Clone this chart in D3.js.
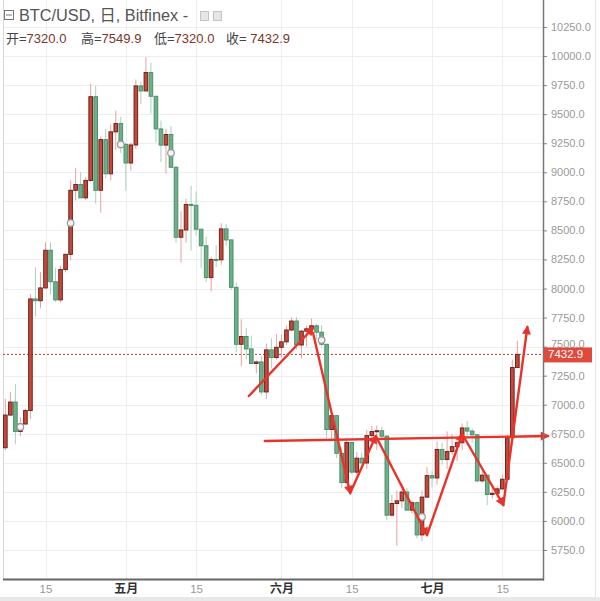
<!DOCTYPE html>
<html><head><meta charset="utf-8">
<script src="https://cdn.jsdelivr.net/npm/d3@7"></script>
<style>html,body{margin:0;padding:0;background:#fff;}svg{display:block;}</style>
</head><body>
<svg id="c" width="600" height="601"></svg>
<script>
// ---- data ----
const dates = ["2018-04-07","2018-04-08","2018-04-09","2018-04-10","2018-04-11","2018-04-12","2018-04-13","2018-04-14","2018-04-15","2018-04-16","2018-04-17","2018-04-18","2018-04-19","2018-04-20","2018-04-21","2018-04-22","2018-04-23","2018-04-24","2018-04-25","2018-04-26","2018-04-27","2018-04-28","2018-04-29","2018-04-30","2018-05-01","2018-05-02","2018-05-03","2018-05-04","2018-05-05","2018-05-06","2018-05-07","2018-05-08","2018-05-09","2018-05-10","2018-05-11","2018-05-12","2018-05-13","2018-05-14","2018-05-15","2018-05-16","2018-05-17","2018-05-18","2018-05-19","2018-05-20","2018-05-21","2018-05-22","2018-05-23","2018-05-24","2018-05-25","2018-05-26","2018-05-27","2018-05-28","2018-05-29","2018-05-30","2018-05-31","2018-06-01","2018-06-02","2018-06-03","2018-06-04","2018-06-05","2018-06-06","2018-06-07","2018-06-08","2018-06-09","2018-06-10","2018-06-11","2018-06-12","2018-06-13","2018-06-14","2018-06-15","2018-06-16","2018-06-17","2018-06-18","2018-06-19","2018-06-20","2018-06-21","2018-06-22","2018-06-23","2018-06-24","2018-06-25","2018-06-26","2018-06-27","2018-06-28","2018-06-29","2018-06-30","2018-07-01","2018-07-02","2018-07-03","2018-07-04","2018-07-05","2018-07-06","2018-07-07","2018-07-08","2018-07-09","2018-07-10","2018-07-11","2018-07-12","2018-07-13","2018-07-14","2018-07-15","2018-07-16","2018-07-17","2018-07-18"];
const opens  = [6630,6911,7023,6770,6834,6950,7910,7895,8005,8329,8058,7902,8163,8294,8845,8895,8780,8930,9650,8845,9281,8987,9348,9419,9240,9080,9235,9743,9700,9858,9654,9373,9234,9325,9043,8441,8504,8723,8716,8510,8368,8094,8250,8247,8513,8418,8010,7520,7587,7480,7355,7368,7110,7472,7406,7494,7541,7643,7720,7514,7633,7653,7679,7624,7520,6787,6906,6582,6330,6675,6420,6540,6499,6734,6769,6776,6729,6050,6150,6173,6249,6093,6157,5880,6205,6390,6370,6615,6529,6597,6639,6673,6800,6773,6741,6345,6394,6228,6238,6276,6359,6716,7320];
const highs  = [7050,7111,7178,6892,6968,7950,8183,8140,8397,8398,8175,8197,8298,8930,9035,9001,8958,9760,9745,9307,9375,9412,9531,9477,9255,9256,9798,9779,9990,9940,9654,9446,9374,9396,9052,8664,8773,8881,8836,8510,8445,8274,8372,8562,8557,8423,8054,7735,7659,7595,7381,7419,7526,7573,7608,7604,7681,7755,7754,7643,7680,7741,7698,7683,7520,6910,6907,6631,6707,6681,6592,6589,6781,6818,6821,6810,6738,6224,6264,6326,6283,6180,6171,6261,6465,6432,6683,6675,6771,6749,6705,6840,6860,6796,6745,6432,6397,6310,6298,6401,6741,7387,7549.9];
const lows   = [6610,6900,6661,6729,6830,6878,7758,7830,8000,7949,7884,7880,8139,8244,8757,8790,8760,8920,8731,8651,8950,8931,9193,9166,8840,9015,9203,9585,9700,9505,9258,9088,8987,9040,8394,8223,8395,8325,8456,8175,8054,7975,8183,8205,8365,7990,7450,7331,7392,7349,7270,7080,7050,7313,7388,7407,7513,7632,7474,7397,7502,7650,7558,7500,6709,6706,6542,6285,6320,6400,6401,6499,6446,6704,6611,6712,6006,6040,5786,6109,6094,6068,5850,5827,6200,6289,6312,6484,6449,6566,6515,6611,6716,6671,6330,6326,6136,6192,6202,6268,6357,6684,7320];
const closes = [6911,7023,6770,6834,6950,7910,7895,8005,8329,8058,7902,8163,8294,8845,8895,8780,8930,9650,8845,9281,8987,9348,9419,9240,9080,9235,9743,9700,9858,9654,9373,9234,9325,9043,8441,8504,8723,8716,8510,8368,8094,8250,8247,8513,8418,8010,7520,7587,7480,7355,7368,7110,7472,7406,7494,7541,7643,7720,7514,7633,7653,7679,7624,7520,6787,6906,6582,6330,6675,6420,6540,6499,6734,6769,6776,6729,6050,6150,6173,6249,6093,6157,5880,6205,6390,6370,6615,6529,6597,6639,6673,6800,6773,6741,6345,6394,6228,6238,6276,6359,6716,7320,7432.9];

// small event circles on candles
const markerDates  = ["2018-04-10","2018-04-20","2018-04-30","2018-05-10","2018-06-09","2018-06-29"];
const markerPrices = [6808,8563,9240,9166,7556,6035];

// hand-drawn annotation (date as fractional day offset from 2018-04-01, price)
const arrowUpDays   = [54.5, 67.3];
const arrowUpPrices = [7075, 7660];
const zigDays   = [67.3, 74.7, 79.8, 90.0, 97.0, 105.2, 110.0];
const zigPrices = [7617, 6240, 6731, 5879, 6748, 6137, 7669];
const hLineDays   = [57.7, 114.1];
const hLinePrices = [6688, 6731];

const yTicks = d3.range(5750, 10251, 250);
const xTickDates = ["2018-04-15","2018-05-01","2018-05-15","2018-06-01","2018-06-15","2018-07-01","2018-07-15"];
const xTickLabels = ["15","五月","15","六月","15","七月","15"];

const header1 = "BTC/USD, 日, Bitfinex -";
const ohlcLabels = ["开=","高=","低=","收="];
const lastOHLC = [7320.0, 7549.9, 7320.0, 7432.9];

// ---- scales ----
const parse = d3.utcParse("%Y-%m-%d");
const base = parse("2018-04-01");
const dayMs = 864e5;
const x = d3.scaleUtc().domain([parse("2018-04-15"), parse("2018-07-15")]).range([45.5, 502.3]);
const y = d3.scaleLinear().domain([5750, 10250]).range([550, 27]);
const xd = d => x(new Date(base.getTime() + d*dayMs));

const plotL = 3, plotR = 543, plotB = 579;
const svg = d3.select("#c");
svg.append("rect").attr("width",600).attr("height",601).attr("fill","#fff");

const defs = svg.append("defs");
defs.append("clipPath").attr("id","clip").append("rect").attr("x",plotL).attr("y",0).attr("width",plotR-plotL).attr("height",plotB);
defs.append("marker").attr("id","ah").attr("viewBox","0 0 10 10").attr("refX",8).attr("refY",5)
  .attr("markerWidth",11).attr("markerHeight",9).attr("markerUnits","userSpaceOnUse").attr("orient","auto")
  .append("path").attr("d","M0,0 L10,5 L0,10 Z").attr("fill","#e8332b");

// gridlines
const g = svg.append("g");
g.selectAll("line.h").data(yTicks).join("line").attr("x1",plotL).attr("x2",plotR)
  .attr("y1",d=>Math.round(y(d))+0.5).attr("y2",d=>Math.round(y(d))+0.5).attr("stroke","#eeeeee");
g.selectAll("line.v").data(xTickDates).join("line").attr("y1",0).attr("y2",plotB)
  .attr("x1",d=>Math.round(x(parse(d)))+0.5).attr("x2",d=>Math.round(x(parse(d)))+0.5).attr("stroke","#eeeeee");

// borders
svg.append("line").attr("x1",3.5).attr("x2",3.5).attr("y1",0).attr("y2",plotB).attr("stroke","#d6d6d6");
svg.append("line").attr("x1",595.5).attr("x2",595.5).attr("y1",0).attr("y2",597).attr("stroke","#e6e6e6");

// last price dotted line
svg.append("line").attr("x1",plotL).attr("x2",plotR).attr("y1",y(lastOHLC[3])).attr("y2",y(lastOHLC[3]))
  .attr("stroke","#c0392b").attr("stroke-width",1).attr("stroke-dasharray","2,2");

// candles
const data = dates.map((d,i)=>({date:parse(d),o:opens[i],h:highs[i],l:lows[i],c:closes[i]}));
const cg = svg.append("g").attr("clip-path","url(#clip)");
const bw = 3.6;
cg.selectAll("line.w").data(data).join("line")
  .attr("x1",d=>x(d.date)).attr("x2",d=>x(d.date)).attr("y1",d=>y(d.h)).attr("y2",d=>y(d.l))
  .attr("stroke",d=>d.c>=d.o?"#e6a3a0":"#a9d2bb").attr("stroke-width",1);
cg.selectAll("rect.b").data(data).join("rect")
  .attr("x",d=>x(d.date)-bw/2).attr("width",bw)
  .attr("y",d=>y(Math.max(d.o,d.c))).attr("height",d=>Math.max(1,Math.abs(y(d.o)-y(d.c))))
  .attr("fill",d=>d.c>=d.o?"#c8473a":"#6cb08b")
  .attr("stroke",d=>d.c>=d.o?"#6a251d":"#4e8f6b").attr("stroke-width",1);

// event circles
cg.selectAll("circle.m").data(markerDates.map((d,i)=>({d:parse(d),p:markerPrices[i]}))).join("circle")
  .attr("cx",d=>x(d.d)).attr("cy",d=>y(d.p)).attr("r",3.3)
  .attr("fill","#f4f4f4").attr("stroke","#9a9a9a").attr("stroke-width",1.2);

// annotations
const ann = svg.append("g").attr("fill","none").attr("stroke","#e8332b").attr("stroke-width",2.4).attr("stroke-linecap","round");
ann.append("line").attr("x1",xd(arrowUpDays[0])).attr("y1",y(arrowUpPrices[0]))
  .attr("x2",xd(arrowUpDays[1])).attr("y2",y(arrowUpPrices[1])).attr("marker-end","url(#ah)");
for (let i=0;i<zigDays.length-1;i++){
  ann.append("line").attr("x1",xd(zigDays[i])).attr("y1",y(zigPrices[i]))
    .attr("x2",xd(zigDays[i+1])).attr("y2",y(zigPrices[i+1])).attr("marker-end","url(#ah)");
}
ann.append("line").attr("x1",xd(hLineDays[0])).attr("y1",y(hLinePrices[0]))
  .attr("x2",xd(hLineDays[1])).attr("y2",y(hLinePrices[1])).attr("marker-end","url(#ah)");

// y axis (right)
const ya = svg.append("g").attr("transform",`translate(${plotR},0)`)
  .call(d3.axisRight(y).tickValues(yTicks).tickSize(4).tickPadding(4).tickFormat(d3.format(".1f")));
ya.select(".domain").remove();
ya.selectAll(".tick line").attr("stroke","#888");
ya.selectAll(".tick text").attr("fill","#9a9a9a").attr("font-family","Liberation Sans, Arial, sans-serif").attr("font-size",11);
// the last-price box sits over the 7500.0 label, as in the picture; lift that label a little
ya.selectAll(".tick text").filter(d=>d===7500).attr("dy","0.05em");
svg.append("line").attr("x1",plotR+0.5).attr("x2",plotR+0.5).attr("y1",0).attr("y2",plotB+1.5).attr("stroke","#777").attr("stroke-width",1.5);

// price label
const py = y(lastOHLC[3]);
svg.append("rect").attr("x",plotR+1).attr("y",py-7).attr("width",48).attr("height",15).attr("fill","#e04a3c");
svg.append("text").attr("x",plotR+5).attr("y",py+4).attr("fill","#fff").attr("font-family","Liberation Sans, Arial, sans-serif")
  .attr("font-size",11.5).text(d3.format(".1f")(lastOHLC[3]));

// x axis
const xa = svg.append("g").attr("transform",`translate(0,${plotB})`)
  .call(d3.axisBottom(x).tickValues(xTickDates.map(parse)).tickSize(0).tickFormat((d,i)=>xTickLabels[i]));
xa.select(".domain").remove();
xa.selectAll(".tick text").attr("y",14).attr("dy",0)
  .attr("font-family","Liberation Sans, 'Noto Sans CJK SC', sans-serif")
  .attr("font-size",(d,i)=>i%2? 12:11.5).attr("font-weight",(d,i)=>i%2?"bold":"normal")
  .attr("fill",(d,i)=>i%2?"#333":"#999");
svg.append("line").attr("x1",plotL).attr("x2",plotR+1).attr("y1",plotB+0.5).attr("y2",plotB+0.5).attr("stroke","#666").attr("stroke-width",2.2);

// bottom band
svg.append("rect").attr("x",0).attr("y",597).attr("width",600).attr("height",4).attr("fill","#e8e8e8");

// header
const hf = "Liberation Sans, 'Noto Sans CJK SC', Arial, sans-serif";
const ic = svg.append("g").attr("stroke","#777").attr("fill","none");
ic.append("rect").attr("x",4.5).attr("y",10.5).attr("width",9).attr("height",9);
ic.append("line").attr("x1",6).attr("x2",12).attr("y1",15).attr("y2",15);
svg.append("text").attr("x",19).attr("y",21).attr("font-family",hf).attr("font-size",16.3).attr("fill","#555").text(header1);
svg.append("rect").attr("x",200.5).attr("y",11.5).attr("width",8).attr("height",9).attr("fill","#e6e6e6").attr("stroke","#c4c4c4");
svg.append("rect").attr("x",213.5).attr("y",11.5).attr("width",8).attr("height",9).attr("fill","#e6e6e6").attr("stroke","#c4c4c4");
const hx = [6, 81, 154, 226];
ohlcLabels.forEach((lab,i)=>{
  const t = svg.append("text").attr("x",hx[i]).attr("y",43).attr("font-family",hf).attr("font-size",13);
  t.append("tspan").attr("fill","#444").text(lab);
  t.append("tspan").attr("fill","#7c3528").text((i===3?" ":"")+d3.format(".1f")(lastOHLC[i]));
});
</script>
</body></html>
